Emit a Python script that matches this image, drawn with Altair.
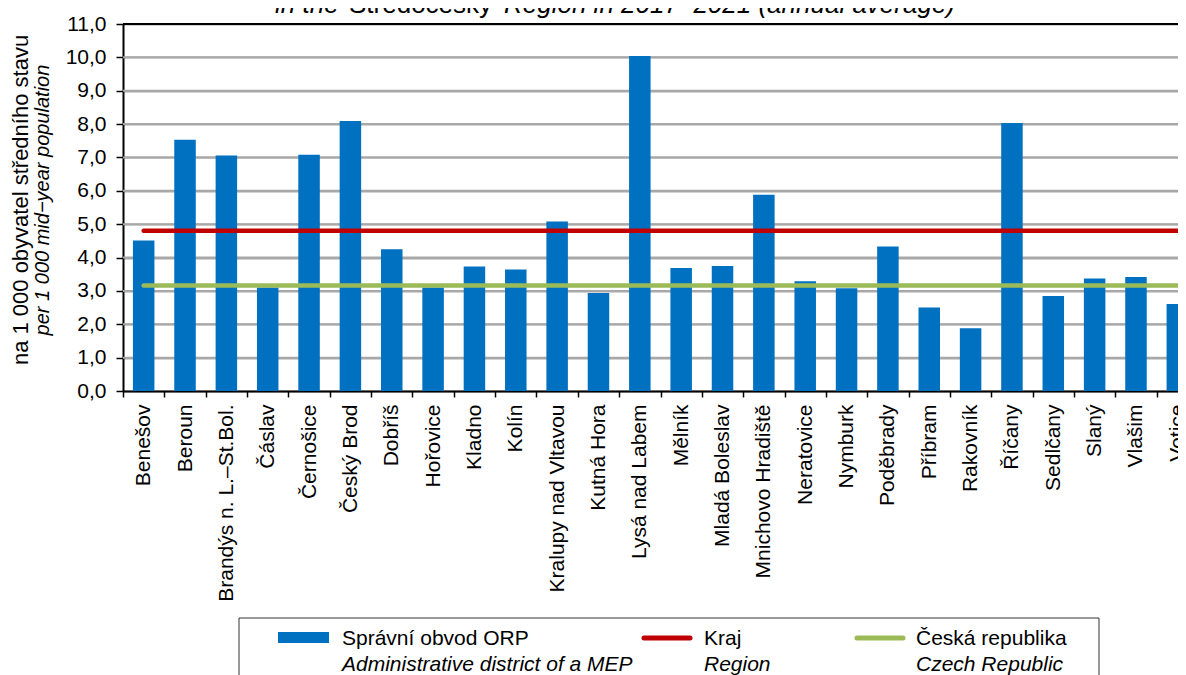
import altair as alt
import pandas as pd

# ---- data ----
categories = ["Benešov", "Beroun", "Brandýs n. L.–St.Bol.", "Čáslav", "Černošice",
              "Český Brod", "Dobříš", "Hořovice", "Kladno", "Kolín",
              "Kralupy nad Vltavou", "Kutná Hora", "Lysá nad Labem", "Mělník",
              "Mladá Boleslav", "Mnichovo Hradiště", "Neratovice", "Nymburk",
              "Poděbrady", "Příbram", "Rakovník", "Říčany", "Sedlčany", "Slaný",
              "Vlašim", "Votice"]
orp_values = [4.51, 7.53, 7.06, 3.10, 7.08, 8.09, 4.25, 3.10, 3.73, 3.64,
              5.08, 2.94, 10.04, 3.69, 3.75, 5.88, 3.29, 3.08, 4.33, 2.50,
              1.88, 8.03, 2.85, 3.37, 3.42, 2.61]
kraj_value = 4.80
cr_value = 3.16
y_ticks = [0, 1, 2, 3, 4, 5, 6, 7, 8, 9, 10, 11]
y_max = 11

FONT = "Liberation Sans"
BLUE = "#0070C0"
RED = "#C00000"
GREEN = "#9BBB59"
GRID = "#A8A8A8"

bars_df = pd.DataFrame({"cat": categories, "value": orp_values})
kraj_df = pd.DataFrame({"cat": categories, "value": [kraj_value] * len(categories)})
cr_df = pd.DataFrame({"cat": categories, "value": [cr_value] * len(categories)})
grid_df = pd.DataFrame({"value": [float(v) for v in y_ticks[1:-1]]})
top_df = pd.DataFrame({"value": [float(y_max)]})

x_scale = alt.Scale(range=[0, 1075], paddingInner=0, paddingOuter=0)
y_scale = alt.Scale(domain=[0, y_max], nice=False, zero=True)

x_axis = alt.Axis(labelAngle=-90, labelFont=FONT, labelFontSize=21, labelColor="black",
                  labelLimit=400, labelOverlap=False, labelPadding=7,
                  tickBand="extent", tickSize=6, tickColor="black", tickWidth=1.5,
                  domainColor="black", domainWidth=2, grid=False)
y_axis = alt.Axis(values=y_ticks,
                  labelExpr="replace(format(datum.value, '.1f'), '.', ',')",
                  labelFont=FONT, labelFontSize=21, labelColor="black", labelPadding=10,
                  labelOverlap=False, labelFlush=False,
                  tickSize=7, tickColor="black", tickWidth=1.5,
                  domainColor="black", domainWidth=2,
                  grid=True, gridColor=GRID, gridWidth=2, gridOpacity=1)

x_enc = alt.X("cat:N", sort=categories, title=None, scale=x_scale, axis=x_axis)
y_enc = alt.Y("value:Q", title=None, scale=y_scale, axis=y_axis)

# horizontal gridlines and the black top frame line
grid = alt.Chart(grid_df).mark_rule(color=GRID, strokeWidth=2, opacity=1).encode(
    y=y_enc, x=alt.value(0), x2=alt.value(1075))
top_line = alt.Chart(top_df).mark_rule(color="black", strokeWidth=2).encode(
    y=y_enc, x=alt.value(0), x2=alt.value(1075))

bars = alt.Chart(bars_df).mark_bar(color=BLUE, width=alt.RelativeBandSize(0.52)).encode(
    x=x_enc, y=y_enc)
kraj_line = alt.Chart(kraj_df).mark_line(color=RED, strokeWidth=4.5, strokeCap="round").encode(
    x=x_enc, y=y_enc)
cr_line = alt.Chart(cr_df).mark_line(color=GREEN, strokeWidth=4.5, strokeCap="round").encode(
    x=x_enc, y=y_enc)

one = alt.Data(values=[{"k": 0}])


def txt(s, x, y, size=21, style="normal", align="left", angle=0, baseline="alphabetic"):
    return alt.Chart(one).mark_text(
        text=s, font=FONT, fontSize=size, fontStyle=style, align=align,
        baseline=baseline, angle=angle, color="black"
    ).encode(x=alt.value(x), y=alt.value(y))


# title (top partly cut, as in the reference)
title_layers = [
    txt("in the", 152, -11, size=26, style="italic"),
    txt("Středočeský", 226, -11, size=26),
    txt("Region in 2017–2021 (annual average)", 381, -11, size=26, style="italic"),
]

# y-axis title (two lines)
ytitle_layers = [
    txt("na 1 000 obyvatel středního stavu", -102, 176, size=22, angle=270, align="center",
        baseline="middle"),
    txt("per 1 000 mid−year population", -80, 176, size=20, style="italic", angle=270,
        align="center", baseline="middle"),
]

# legend
legend_box = alt.Chart(one).mark_rect(fillOpacity=0, stroke="#333333", strokeWidth=1).encode(
    x=alt.value(116), x2=alt.value(976), y=alt.value(594), y2=alt.value(720))
leg_blue = alt.Chart(one).mark_rect(color=BLUE).encode(
    x=alt.value(155), x2=alt.value(206), y=alt.value(608), y2=alt.value(619))
leg_red = alt.Chart(one).mark_rule(color=RED, strokeWidth=5, strokeCap="round").encode(
    x=alt.value(521), x2=alt.value(567), y=alt.value(614))
leg_green = alt.Chart(one).mark_rule(color=GREEN, strokeWidth=5, strokeCap="round").encode(
    x=alt.value(734), x2=alt.value(780), y=alt.value(614))
legend_text = [
    txt("Správní obvod ORP", 219, 621),
    txt("Administrative district of a MEP", 219, 647, style="italic"),
    txt("Kraj", 581, 621),
    txt("Region", 581, 647, style="italic"),
    txt("Česká republika", 793, 621),
    txt("Czech Republic", 793, 647, style="italic"),
]

chart = alt.layer(
    grid, bars, kraj_line, cr_line, top_line, *title_layers, *ytitle_layers,
    legend_box, leg_blue, leg_red, leg_green, *legend_text
).properties(
    width=1055, height=367,
    padding={"left": 115, "top": 16, "right": 0, "bottom": 299},
    autosize=alt.AutoSizeParams(type="none"),
).configure(background="white").configure_view(stroke=None)

chart.save("out.html", embed_options={"renderer": "svg", "actions": False})
